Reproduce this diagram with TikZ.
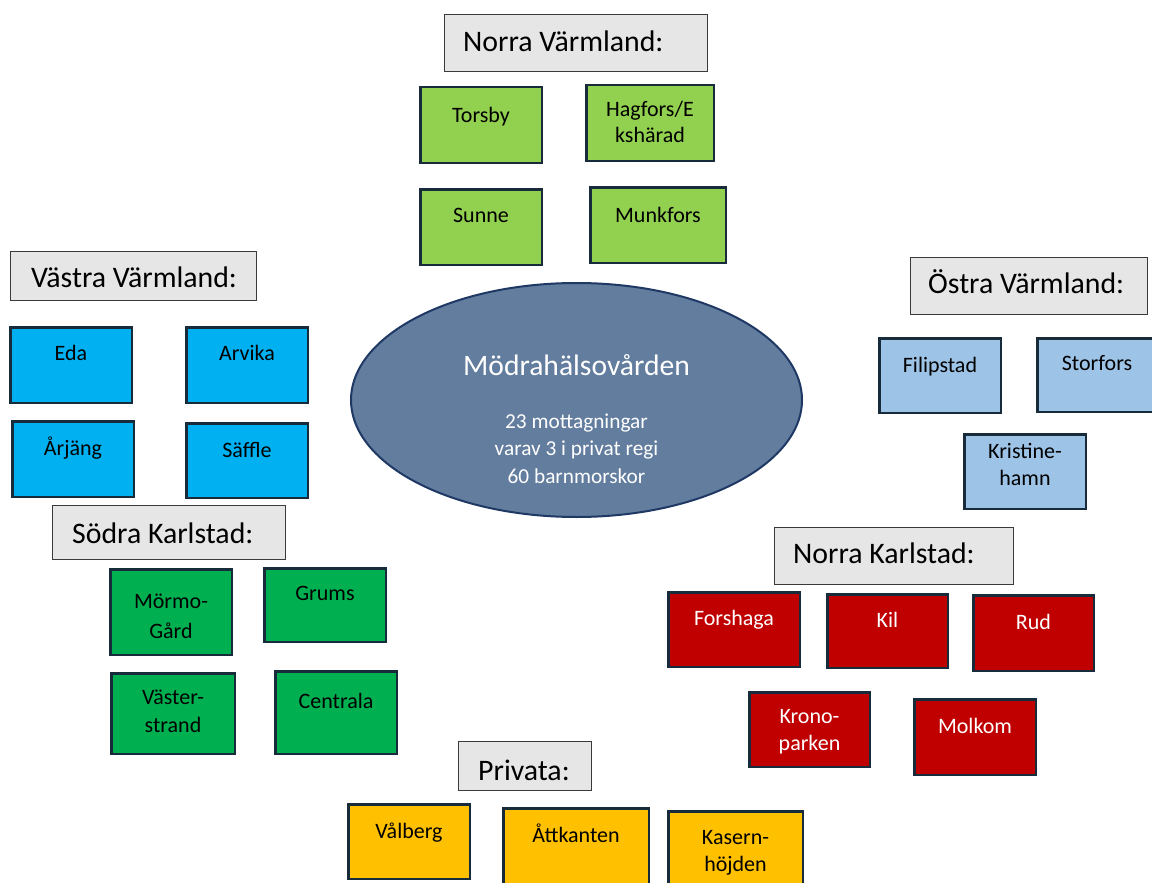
\documentclass[tikz,border=0pt]{standalone}
\usepackage{fontspec}
\setmainfont{Carlito}
\usetikzlibrary{shapes.geometric}
\definecolor{hdrfill}{HTML}{E7E6E6}
\definecolor{hdrline}{HTML}{3A3A3A}
\definecolor{boxline}{HTML}{172B3B}
\definecolor{lgreen}{HTML}{92D050}
\definecolor{cblue}{HTML}{00B0F0}
\definecolor{lblue}{HTML}{9DC3E6}
\definecolor{cgreen}{HTML}{00B050}
\definecolor{cred}{HTML}{C00000}
\definecolor{cyellow}{HTML}{FFC000}
\definecolor{ellfill}{HTML}{637D9F}
\definecolor{ellline}{HTML}{1F3864}
\tikzset{
  basebox/.style={draw=boxline, line width=2.5pt, rectangle, inner sep=0pt},
  nvbox/.style={basebox, fill=lgreen},
  vvbox/.style={basebox, fill=cblue},
  ovbox/.style={basebox, fill=lblue},
  skbox/.style={basebox, fill=cgreen},
  nkbox/.style={basebox, fill=cred},
  prbox/.style={basebox, fill=cyellow},
  hdrbox/.style={draw=hdrline, line width=1.2pt, fill=hdrfill, rectangle, inner sep=0pt},
  btxt/.style={anchor=base, inner sep=0pt, font=\fontsize{22}{26}\selectfont, text=black},
  wtxt/.style={btxt, text=white},
  htxt/.style={anchor=base west, inner sep=0pt, font=\fontsize{29.8}{35}\selectfont, text=black},
}
\newcommand\bx[6]{\node[#2, minimum width={#5-#3-2.5}, minimum height={#6-#4-2.5}] (#1) at ({(#3+#5)/2},{(#4+#6)/2}) {};}
\newcommand\twol[3]{{\fontsize{22}{#1}\selectfont\begin{tabular}[t]{@{}c@{}}#2\\#3\end{tabular}}}
\begin{document}
\begin{tikzpicture}[x=1pt,y=-1pt]
\useasboundingbox (0,0) rectangle (1152,883);
\clip (0,0) rectangle (1152,883);
% centre
\node[ellipse, draw=ellline, line width=2pt, fill=ellfill, minimum width=451, minimum height=234, inner sep=0pt] (mhv) at (576.5,400) {};
\node[anchor=base, inner sep=0pt, text=white, font=\fontsize{29.6}{34}\selectfont] (mhvt) at (576.5,375) {Mödrahälsovården};
\node[anchor=base, inner sep=0pt, text=white] (mhvb) at (576.5,428) {\fontsize{21.3}{27.5}\selectfont\begin{tabular}[t]{@{}c@{}}23 mottagningar\\varav 3 i privat regi\\60 barnmorskor\end{tabular}};
% Norra Värmland
\bx{norrav}{hdrbox}{443}{13}{709}{73}
\node[htxt] (norravt) at (463,52) {Norra Värmland:};
\bx{torsby}{nvbox}{419}{86}{543}{164}
\node[btxt] (torsbyt) at (481,122) {Torsby};
\bx{hagfors}{nvbox}{585}{84}{715}{162}
\node[btxt] (hagforst) at (650,117) {\twol{26}{Hagfors/E}{kshärad}};
\bx{sunne}{nvbox}{419}{188}{543}{266}
\node[btxt] (sunnet) at (481,222) {Sunne};
\bx{munkfors}{nvbox}{589}{186}{727}{264}
\node[btxt] (munkforst) at (658,222) {Munkfors};
% Västra Värmland
\bx{vastrav}{hdrbox}{9}{250}{258}{302}
\node[htxt] (vastravt) at (31,287) {Västra Värmland:};
\bx{eda}{vvbox}{9}{326}{133}{404}
\node[btxt] (edat) at (71,360) {Eda};
\bx{arvika}{vvbox}{185}{326}{309}{404}
\node[btxt] (arvikat) at (247,360) {Arvika};
\bx{arjang}{vvbox}{11}{420}{135}{498}
\node[btxt] (arjangt) at (73,455) {Årjäng};
\bx{saffle}{vvbox}{185}{422}{309}{499}
\node[btxt] (safflet) at (247,457) {Säffle};
% Östra Värmland
\bx{ostrav}{hdrbox}{909}{256}{1149}{316}
\node[htxt] (ostravt) at (928,293) {Östra Värmland:};
\bx{filipstad}{ovbox}{878}{337}{1002}{414}
\node[btxt] (filipstadt) at (940,372) {Filipstad};
\bx{storfors}{ovbox}{1036}{337}{1160}{413}
\node[btxt] (storforst) at (1097,370) {Storfors};
\bx{kristine}{ovbox}{963}{433}{1087}{510}
\node[btxt] (kristinet) at (1025,458) {\twol{27}{Kristine-}{hamn}};
% Södra Karlstad
\bx{sodrak}{hdrbox}{51}{504}{287}{561}
\node[htxt] (sodrakt) at (72,543) {Södra Karlstad:};
\bx{mormo}{skbox}{109}{568}{233}{656}
\node[btxt] (mormot) at (171,608) {\twol{30}{Mörmo-}{Gård}};
\bx{grums}{skbox}{263}{567}{387}{643}
\node[btxt] (grumst) at (325,600) {Grums};
\bx{vaster}{skbox}{110}{672}{236}{755}
\node[btxt] (vastert) at (173,704) {\twol{28}{Väster-}{strand}};
\bx{centrala}{skbox}{274}{670}{398}{755}
\node[btxt] (centralat) at (336,708) {Centrala};
% Norra Karlstad
\bx{norrak}{hdrbox}{773}{526}{1015}{586}
\node[htxt] (norrakt) at (793,563) {Norra Karlstad:};
\bx{forshaga}{nkbox}{667}{591}{801}{668}
\node[wtxt] (forshagat) at (734,625) {Forshaga};
\bx{kil}{nkbox}{826}{593}{949}{669}
\node[wtxt] (kilt) at (887.5,627) {Kil};
\bx{rud}{nkbox}{972}{594}{1095}{672}
\node[wtxt] (rudt) at (1033.5,629) {Rud};
\bx{krono}{nkbox}{748}{691}{871}{768}
\node[wtxt] (kronot) at (809.5,723) {\twol{27}{Krono-}{parken}};
\bx{molkom}{nkbox}{913}{698}{1037}{776}
\node[wtxt] (molkomt) at (975,733) {Molkom};
% Privata
\bx{privata}{hdrbox}{457}{740}{593}{792}
\node[htxt] (privatat) at (478,780) {Privata:};
\bx{valberg}{prbox}{347}{803}{471}{880}
\node[btxt] (valbergt) at (409,838) {Vålberg};
\bx{attkanten}{prbox}{502}{807}{650}{890}
\node[btxt] (attkantent) at (576,842) {Åttkanten};
\bx{kasern}{prbox}{667}{810}{804}{895}
\node[btxt] (kasernt) at (735.5,844) {\twol{27}{Kasern-}{höjden}};
\end{tikzpicture}
\end{document}
